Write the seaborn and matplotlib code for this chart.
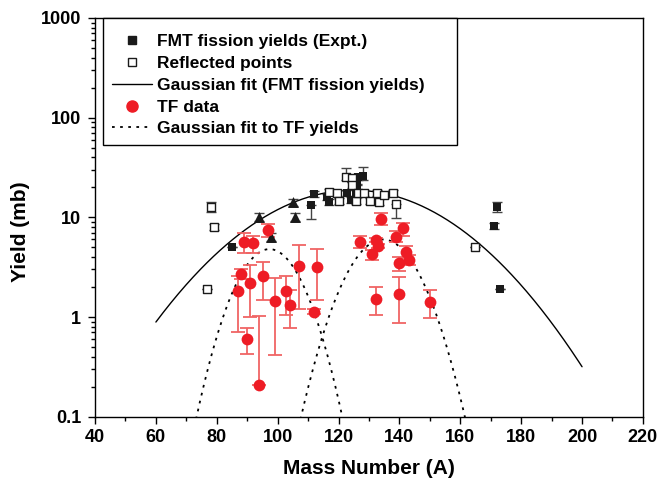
import numpy as np
import pandas as pd
import matplotlib
matplotlib.use("Agg")
import matplotlib.pyplot as plt
import seaborn as sns
from matplotlib.lines import Line2D
from matplotlib.ticker import MultipleLocator, LogLocator, FixedLocator, FixedFormatter, NullFormatter

# ---------------- data ----------------
# FMT fission yields (Expt.) - filled squares
fmt_A = [85.0, 111.1, 112.0, 116.3, 117.0, 122.9, 124.0, 126.4, 128.1, 126.2, 126.2, 125.6, 171.0, 172.0, 173.1]
fmt_y = [5.0, 13.3, 17.2, 16.0, 14.3, 17.4, 14.9, 25.5, 25.9, 22.7, 20.2, 17.4, 8.2, 12.8, 1.9]
fmt_lo = [0.0, 3.7, 1.2, 1.0, 1.0, 1.2, 1.0, 2.0, 2.0, 1.5, 1.5, 1.2, 0.6, 1.4, 0.0]
fmt_hi = [0.0, 0.0, 1.2, 1.0, 1.0, 1.2, 1.0, 2.0, 6.0, 1.5, 1.5, 1.2, 0.6, 1.4, 0.0]

# additional FMT yields plotted as filled triangles
tri_A = [94.0, 97.8, 105.2, 105.8]
tri_y = [10.1, 6.4, 14.1, 10.1]
tri_err = [1.0, 0.6, 1.0, 1.0]

# Reflected points - open squares
ref_A = [76.9, 78.0, 79.0, 117.0, 119.6, 120.2, 122.4, 124.3, 124.3, 125.9, 126.4, 128.4, 130.2,
         132.7, 133.3, 134.9, 137.9, 139.0, 164.9]
ref_y = [1.9, 12.8, 8.05, 18.0, 17.4, 14.7, 25.5, 24.6, 21.0, 14.7, 17.4, 17.4, 14.7,
         17.4, 14.3, 16.7, 17.4, 13.6, 5.0]
ref_lo = [0.0, 1.4, 0.6, 1.2, 1.2, 1.0, 2.0, 2.0, 1.5, 1.0, 1.2, 1.2, 1.0,
          1.2, 1.0, 1.2, 1.2, 3.8, 0.0]
ref_hi = [0.0, 1.4, 0.6, 1.2, 1.2, 1.0, 6.0, 2.0, 1.5, 1.0, 1.2, 1.2, 1.0,
          1.2, 1.0, 1.2, 1.2, 0.0, 0.0]

# TF data - red circles
tf_A = [86.9, 88.0, 89.1, 90.0, 91.0, 92.0, 94.0, 95.1, 96.9, 99.1, 102.9, 104.0, 107.1, 112.0,
        112.9, 127.0, 131.1, 132.2, 133.0, 132.2, 134.1, 139.0, 141.1, 142.0, 143.1, 140.0,
        140.0, 150.2]
tf_y = [1.82, 2.7, 5.7, 0.6, 2.18, 5.5, 0.21, 2.57, 7.5, 1.45, 1.82, 1.32, 3.24, 1.13,
        3.15, 5.7, 4.25, 5.9, 5.15, 1.52, 9.6, 6.4, 7.9, 4.5, 3.7, 3.5,
        1.7, 1.43]
tf_low = [0.71, 2.4, 4.4, 0.43, 1.0, 4.4, 0.21, 1.48, 6.4, 0.42, 1.05, 0.77, 1.2, 1.06,
          1.48, 4.9, 3.7, 5.6, 4.9, 1.05, 8.4, 5.6, 6.5, 3.9, 3.3, 2.9,
          0.88, 0.97]
tf_high = [2.6, 3.0, 7.0, 0.77, 3.3, 6.5, 1.02, 3.6, 8.6, 2.44, 2.58, 1.87, 5.3, 1.2,
           4.8, 6.5, 4.75, 6.2, 5.4, 2.0, 11.1, 7.3, 8.7, 5.1, 4.2, 4.0,
           2.5, 1.87]

# Gaussian fit parameters (amplitude, centroid, width)
fmt_fit = dict(amp=18.7, mu=124.9, sigma=26.3, A_min=60, A_max=200)
tf_fit_light = dict(amp=4.8, mu=97.3, sigma=8.6, A_min=68, A_max=126)
tf_fit_heavy = dict(amp=6.0, mu=134.6, sigma=9.4, A_min=103, A_max=166)

x_ticks = [40, 60, 80, 100, 120, 140, 160, 180, 200, 220]
y_ticks = [0.1, 1, 10, 100, 1000]
y_tick_labels = ["0.1", "1", "10", "100", "1000"]

legend_labels = ["FMT fission yields (Expt.)", "Reflected points", "Gaussian fit (FMT fission yields)",
                 "TF data", "Gaussian fit to TF yields"]

# ---------------- style ----------------
sns.set_style("ticks")
plt.rcParams["font.family"] = ["Liberation Sans", "DejaVu Sans"]
plt.rcParams["font.weight"] = "bold"
plt.rcParams["axes.labelweight"] = "bold"
plt.rcParams["axes.edgecolor"] = "black"
plt.rcParams["text.color"] = "black"
plt.rcParams["axes.labelcolor"] = "black"
plt.rcParams["xtick.color"] = "black"
plt.rcParams["ytick.color"] = "black"

RED = "#ee1c25"
RED_ERR = "#f06464"
DOT = (0, (1.5, 3.0))

fig = plt.figure(figsize=(6.59, 4.82), dpi=100)
ax = fig.add_axes([0.1442, 0.1355, 0.8314, 0.8272])


def gauss_curve(p, n=400):
    A = np.linspace(p["A_min"], p["A_max"], n)
    return A, p["amp"] * np.exp(-(A - p["mu"]) ** 2 / (2 * p["sigma"] ** 2))


# fit curves
A1, y1 = gauss_curve(fmt_fit)
sns.lineplot(x=A1, y=y1, ax=ax, color="black", lw=1.0, estimator=None, sort=False)
A2, y2 = gauss_curve(tf_fit_light)
sns.lineplot(x=A2, y=y2, ax=ax, color="black", lw=1.3, linestyle=DOT, estimator=None, sort=False)
A3, y3 = gauss_curve(tf_fit_heavy)
sns.lineplot(x=A3, y=y3, ax=ax, color="black", lw=1.3, linestyle=DOT, estimator=None, sort=False)

# error bars
ax.errorbar(fmt_A, fmt_y, yerr=[fmt_lo, fmt_hi], fmt="none", ecolor="#444444", elinewidth=1.0, capsize=3.5, capthick=1.0, zorder=3)
ax.errorbar(tri_A, tri_y, yerr=tri_err, fmt="none", ecolor="#444444", elinewidth=1.0, capsize=3.5, capthick=1.0, zorder=3)
ax.errorbar(ref_A, ref_y, yerr=[ref_lo, ref_hi], fmt="none", ecolor="#444444", elinewidth=1.0, capsize=3.5, capthick=1.0, zorder=3)
tf_y_arr = np.array(tf_y)
ax.errorbar(tf_A, tf_y, yerr=[tf_y_arr - np.array(tf_low), np.array(tf_high) - tf_y_arr], fmt="none",
            ecolor=RED_ERR, elinewidth=1.3, capsize=5, capthick=1.3, zorder=3)

# markers
sns.scatterplot(x=fmt_A, y=fmt_y, ax=ax, marker="s", color="#1a1a1a", s=38, linewidth=0, zorder=4)
sns.scatterplot(x=tri_A, y=tri_y, ax=ax, marker="^", color="#1a1a1a", s=62, linewidth=0, zorder=4)
sns.scatterplot(x=ref_A, y=ref_y, ax=ax, marker="s", facecolor="white", edgecolor="#1a1a1a", s=38, linewidth=1.0, zorder=5)
sns.scatterplot(x=tf_A, y=tf_y, ax=ax, marker="o", color=RED, s=72, linewidth=0, zorder=6)

# axes
ax.set_yscale("log")
ax.set_xlim(40, 220)
ax.set_ylim(0.1, 1000)
ax.xaxis.set_major_locator(FixedLocator(x_ticks))
ax.xaxis.set_minor_locator(MultipleLocator(10))
ax.yaxis.set_major_locator(FixedLocator(y_ticks))
ax.yaxis.set_major_formatter(FixedFormatter(y_tick_labels))
ax.yaxis.set_minor_locator(LogLocator(base=10, subs=np.arange(2, 10), numticks=20))
ax.yaxis.set_minor_formatter(NullFormatter())
ax.tick_params(axis="both", which="major", direction="out", length=5, width=1, labelsize=13,
               top=False, right=False)
ax.tick_params(axis="both", which="minor", direction="out", length=3, width=1, top=False, right=False)
ax.tick_params(axis="x", which="major", pad=4)
ax.tick_params(axis="y", which="major", pad=5)
for lab in ax.get_xticklabels() + ax.get_yticklabels():
    lab.set_fontweight("bold")
for sp in ax.spines.values():
    sp.set_visible(True)
    sp.set_linewidth(1.0)
    sp.set_color("black")

ax.set_xlabel("Mass Number (A)", fontsize=15, fontweight="bold")
ax.set_ylabel("Yield (mb)", fontsize=15, fontweight="bold")
ax.xaxis.set_label_coords(0.5, -0.106)
ax.yaxis.set_label_coords(-0.119, 0.463)

# legend
handles = [
    Line2D([], [], marker="s", color="#1a1a1a", ls="none", markersize=6),
    Line2D([], [], marker="s", markerfacecolor="white", markeredgecolor="#1a1a1a", ls="none", markersize=6, markeredgewidth=1),
    Line2D([], [], color="black", lw=1.0),
    Line2D([], [], marker="o", color=RED, ls="none", markersize=8),
    Line2D([], [], color="black", lw=1.3, ls=DOT),
]
leg = ax.legend(handles, legend_labels, loc="upper left", bbox_to_anchor=(0.0145, 0.0, 0.647, 1.0),
                mode="expand", borderaxespad=0, prop={"size": 12.5, "weight": "bold"},
                frameon=True, fancybox=False, edgecolor="black", framealpha=1,
                handlelength=2.3, handletextpad=0.3, labelspacing=0.38, borderpad=0.5,
                title=" ", title_fontsize=1)
leg.get_frame().set_linewidth(1.0)
leg.set_zorder(10)

fig.savefig("out.png", dpi=100)
